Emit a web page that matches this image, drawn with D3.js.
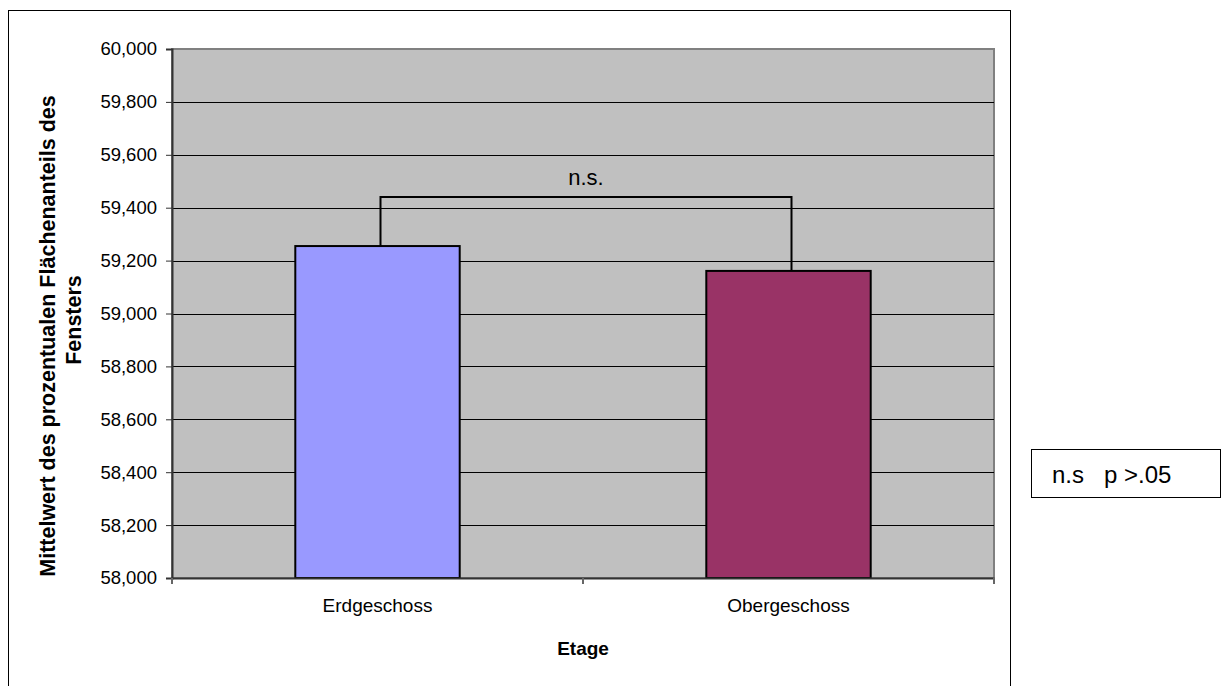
<!DOCTYPE html>
<html><head><meta charset="utf-8">
<script src="https://cdn.jsdelivr.net/npm/d3@7"></script>
<style>body{margin:0;background:#fff}svg{display:block;font-family:"Liberation Sans",Arial,sans-serif}</style>
</head><body><svg id="c" width="1221" height="686"></svg>
<script>
const categories = ["Erdgeschoss", "Obergeschoss"];
const values = [59255, 59161];
const barColors = ["#9999FF", "#993366"];
const yTicks = [58000, 58200, 58400, 58600, 58800, 59000, 59200, 59400, 59600, 59800, 60000];
const bracketLevel = 59440;
const bracketLabel = "n.s.";
const legendText = "n.s   p >.05";
const yTitle = ["Mittelwert des prozentualen Flächenanteils des", "Fensters"];
const xTitle = "Etage";

const svg = d3.select("#c");
const m = {l: 172, t: 49, r: 994, b: 578};
const x = d3.scaleBand().domain(categories).range([m.l, m.r]).paddingInner(0.6).paddingOuter(0.3);
const xb = d3.scaleBand().domain(categories).range([m.l, m.r]);
const y = d3.scaleLinear().domain([58000, 60000]).range([m.b, m.t]);

// outer border
svg.append("rect").attr("x", 8.5).attr("y", 10.5).attr("width", 1002).attr("height", 700)
  .attr("fill", "#fff").attr("stroke", "#000").attr("stroke-width", 1);

// plot area
svg.append("rect").attr("x", m.l).attr("y", m.t).attr("width", m.r - m.l).attr("height", m.b - m.t)
  .attr("fill", "#C0C0C0").attr("stroke", "#808080").attr("stroke-width", 2);

// grid
svg.append("g").selectAll("line").data(yTicks.slice(1, -1)).join("line")
  .attr("x1", m.l).attr("x2", m.r).attr("y1", d => Math.round(y(d)) + 0.5).attr("y2", d => Math.round(y(d)) + 0.5)
  .attr("stroke", "#000").attr("stroke-width", 1);

// bars
svg.append("g").selectAll("rect").data(categories).join("rect")
  .attr("x", d => x(d)).attr("y", (d, i) => y(values[i])).attr("width", x.bandwidth())
  .attr("height", (d, i) => m.b - y(values[i]))
  .attr("fill", (d, i) => barColors[i]).attr("stroke", "#000").attr("stroke-width", 2);

// y axis
const ya = svg.append("g").attr("transform", `translate(${m.l},0)`)
  .call(d3.axisLeft(y).tickValues(yTicks).tickSize(6).tickPadding(9)
    .tickFormat(d => d3.format(",")(d)));
ya.select(".domain").attr("stroke", "#333").attr("stroke-width", 2);
ya.selectAll(".tick line").attr("stroke", "#333");
ya.selectAll("text").attr("font-size", 18.5).attr("fill", "#000").attr("font-family", "Liberation Sans, Arial, sans-serif");

// x axis
const xa = svg.append("g").attr("transform", `translate(0,${m.b})`)
  .call(d3.axisBottom(xb).tickSize(0).tickPadding(21));
xa.select(".domain").attr("stroke", "#333").attr("stroke-width", 2);
xa.selectAll("text").attr("font-size", 19).attr("fill", "#000").attr("font-family", "Liberation Sans, Arial, sans-serif");
svg.append("g").selectAll("line").data([m.l, (m.l + m.r) / 2, m.r]).join("line")
  .attr("x1", d => d).attr("x2", d => d).attr("y1", m.b).attr("y2", m.b + 6)
  .attr("stroke", "#666").attr("stroke-width", 2);

// bracket
const bx = categories.map(c => x(c) + x.bandwidth() / 2 + 3);
const by = y(bracketLevel);
svg.append("path")
  .attr("d", `M${bx[0]},${y(values[0])}V${by}H${bx[1]}V${y(values[1])}`)
  .attr("fill", "none").attr("stroke", "#000").attr("stroke-width", 2);
svg.append("text").attr("x", (bx[0] + bx[1]) / 2).attr("y", 185).attr("text-anchor", "middle")
  .attr("font-size", 22).text(bracketLabel);

// titles
svg.append("text").attr("x", (m.l + m.r) / 2).attr("y", 655).attr("text-anchor", "middle")
  .attr("font-size", 19).attr("font-weight", "bold").text(xTitle);
const yt = svg.append("g").attr("transform", "rotate(-90)")
  .attr("text-anchor", "middle").attr("font-size", 21.5).attr("font-weight", "bold");
yt.append("text").attr("x", -336).attr("y", 55).text(yTitle[0]);
yt.append("text").attr("x", -320).attr("y", 81).text(yTitle[1]);

// legend
svg.append("rect").attr("x", 1031.5).attr("y", 449.5).attr("width", 189).attr("height", 48)
  .attr("fill", "#fff").attr("stroke", "#000").attr("stroke-width", 1);
svg.append("text").attr("x", 1052).attr("y", 483).attr("font-size", 24).attr("xml:space", "preserve")
  .style("white-space", "pre").text(legendText);
</script></body></html>
